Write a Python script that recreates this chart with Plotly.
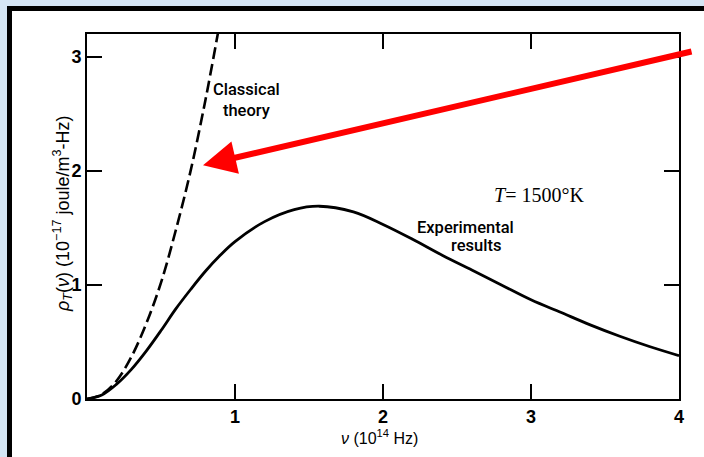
import plotly.graph_objects as go

# Experimental (Planck) curve
exp_nu = [0, 0.1, 0.2, 0.3, 0.4, 0.5, 0.6, 0.7, 0.8, 0.9, 1.0, 1.2, 1.4, 1.57, 1.8, 2.0, 2.2, 2.4, 2.6, 2.8, 3.0, 3.2, 3.4, 3.6, 3.8, 4.0]
exp_rho = [0, 0.035, 0.13, 0.26, 0.42, 0.6, 0.79, 0.96, 1.12, 1.26, 1.38, 1.555, 1.66, 1.69, 1.64, 1.53, 1.40, 1.26, 1.13, 1.0, 0.87, 0.76, 0.65, 0.55, 0.46, 0.38]

# Classical (Rayleigh-Jeans) curve
cls_nu = [0, 0.1, 0.2, 0.3, 0.4, 0.5, 0.6, 0.7, 0.8, 0.885]
cls_rho = [0, 0.04, 0.16, 0.37, 0.66, 1.02, 1.48, 2.0, 2.62, 3.21]

x_ticks = [1, 2, 3, 4]
y_ticks = [0, 1, 2, 3]

# plot area in pixels
L, R, T, B = 87, 679, 34, 399
W, H = 704, 457

def px(xp):
    return (xp - L) / (R - L)

def py(yp):
    return (B - yp) / (B - T)

fig = go.Figure()
fig.add_trace(go.Scatter(x=cls_nu, y=cls_rho, mode="lines",
                         line=dict(color="black", width=2.6, dash="12px,5px", shape="spline"),
                         showlegend=False))
fig.add_trace(go.Scatter(x=exp_nu, y=exp_rho, mode="lines",
                         line=dict(color="black", width=2.8, shape="spline"),
                         showlegend=False))

font_sans = "Liberation Sans"
font_label = "Roboto"

axis_common = dict(
    showgrid=False, zeroline=False, showline=True, linecolor="black", linewidth=2,
    ticks="inside", ticklen=15, tickwidth=2, tickcolor="black", mirror="ticks",
    tickfont=dict(family=font_sans, size=18, color="black", weight="bold"),
)

fig.update_xaxes(range=[0, 4], tickvals=x_ticks, ticktext=[str(v) for v in x_ticks], **axis_common)
fig.update_yaxes(range=[0, 3.2], tickvals=y_ticks, ticktext=[str(v) for v in y_ticks], **axis_common)

lab_font = dict(family=font_label, size=16.5, color="black", weight=500)

annotations = [
    dict(x=1.08, y=2.62, xref="x", yref="y", text="Classical<br>theory", showarrow=False,
         font=lab_font, align="center", xanchor="center", yanchor="middle"),
    dict(x=3.054, y=1.79, xref="x", yref="y", text="<i>T</i>= 1500°K", showarrow=False,
         font=dict(family="Liberation Serif", size=20, color="black"),
         xanchor="center", yanchor="middle"),
    dict(x=2.56, y=1.50, xref="x", yref="y", text="Experimental", showarrow=False,
         font=lab_font, xanchor="center", yanchor="middle"),
    dict(x=2.63, y=1.35, xref="x", yref="y", text="results", showarrow=False,
         font=lab_font, xanchor="center", yanchor="middle"),
    # axis titles
    dict(x=px(62), y=py(214), xref="paper", yref="paper", textangle=-90,
         xanchor="center", yanchor="middle",
         text="<i>ρ<sub>T</sub></i>(<i>ν</i>) (10<sup>−17</sup> joule/m<sup>3</sup>-Hz)",
         showarrow=False, font=dict(family=font_sans, size=18, color="black")),
    dict(x=px(379), y=py(437), xref="paper", yref="paper",
         xanchor="center", yanchor="middle",
         text="<i>ν</i> (10<sup>14</sup> Hz)",
         showarrow=False, font=dict(family=font_sans, size=16, color="black")),
    # red arrow
    dict(x=0.784, y=2.05, xref="x", yref="y", ax=490, ay=-114, axref="pixel", ayref="pixel",
         text="", showarrow=True, arrowhead=2, arrowsize=1.1, arrowwidth=6, arrowcolor="#ff0000"),
]

shapes = [
    dict(type="rect", xref="paper", yref="paper", layer="below",
         x0=px(9.5), x1=px(720), y0=py(8.5), y1=py(480),
         fillcolor="white", line=dict(width=0)),
    dict(type="path", xref="paper", yref="paper", layer="below",
         path=f"M {px(9.5)} {py(480)} L {px(9.5)} {py(8.5)} L {px(720)} {py(8.5)}",
         line=dict(color="black", width=5)),
]

fig.update_layout(
    width=W, height=H,
    margin=dict(l=L, r=W - R, t=T, b=H - B),
    paper_bgcolor="#d5e5f4", plot_bgcolor="white",
    annotations=annotations, shapes=shapes,
    showlegend=False,
)

fig.write_html("out.html")
